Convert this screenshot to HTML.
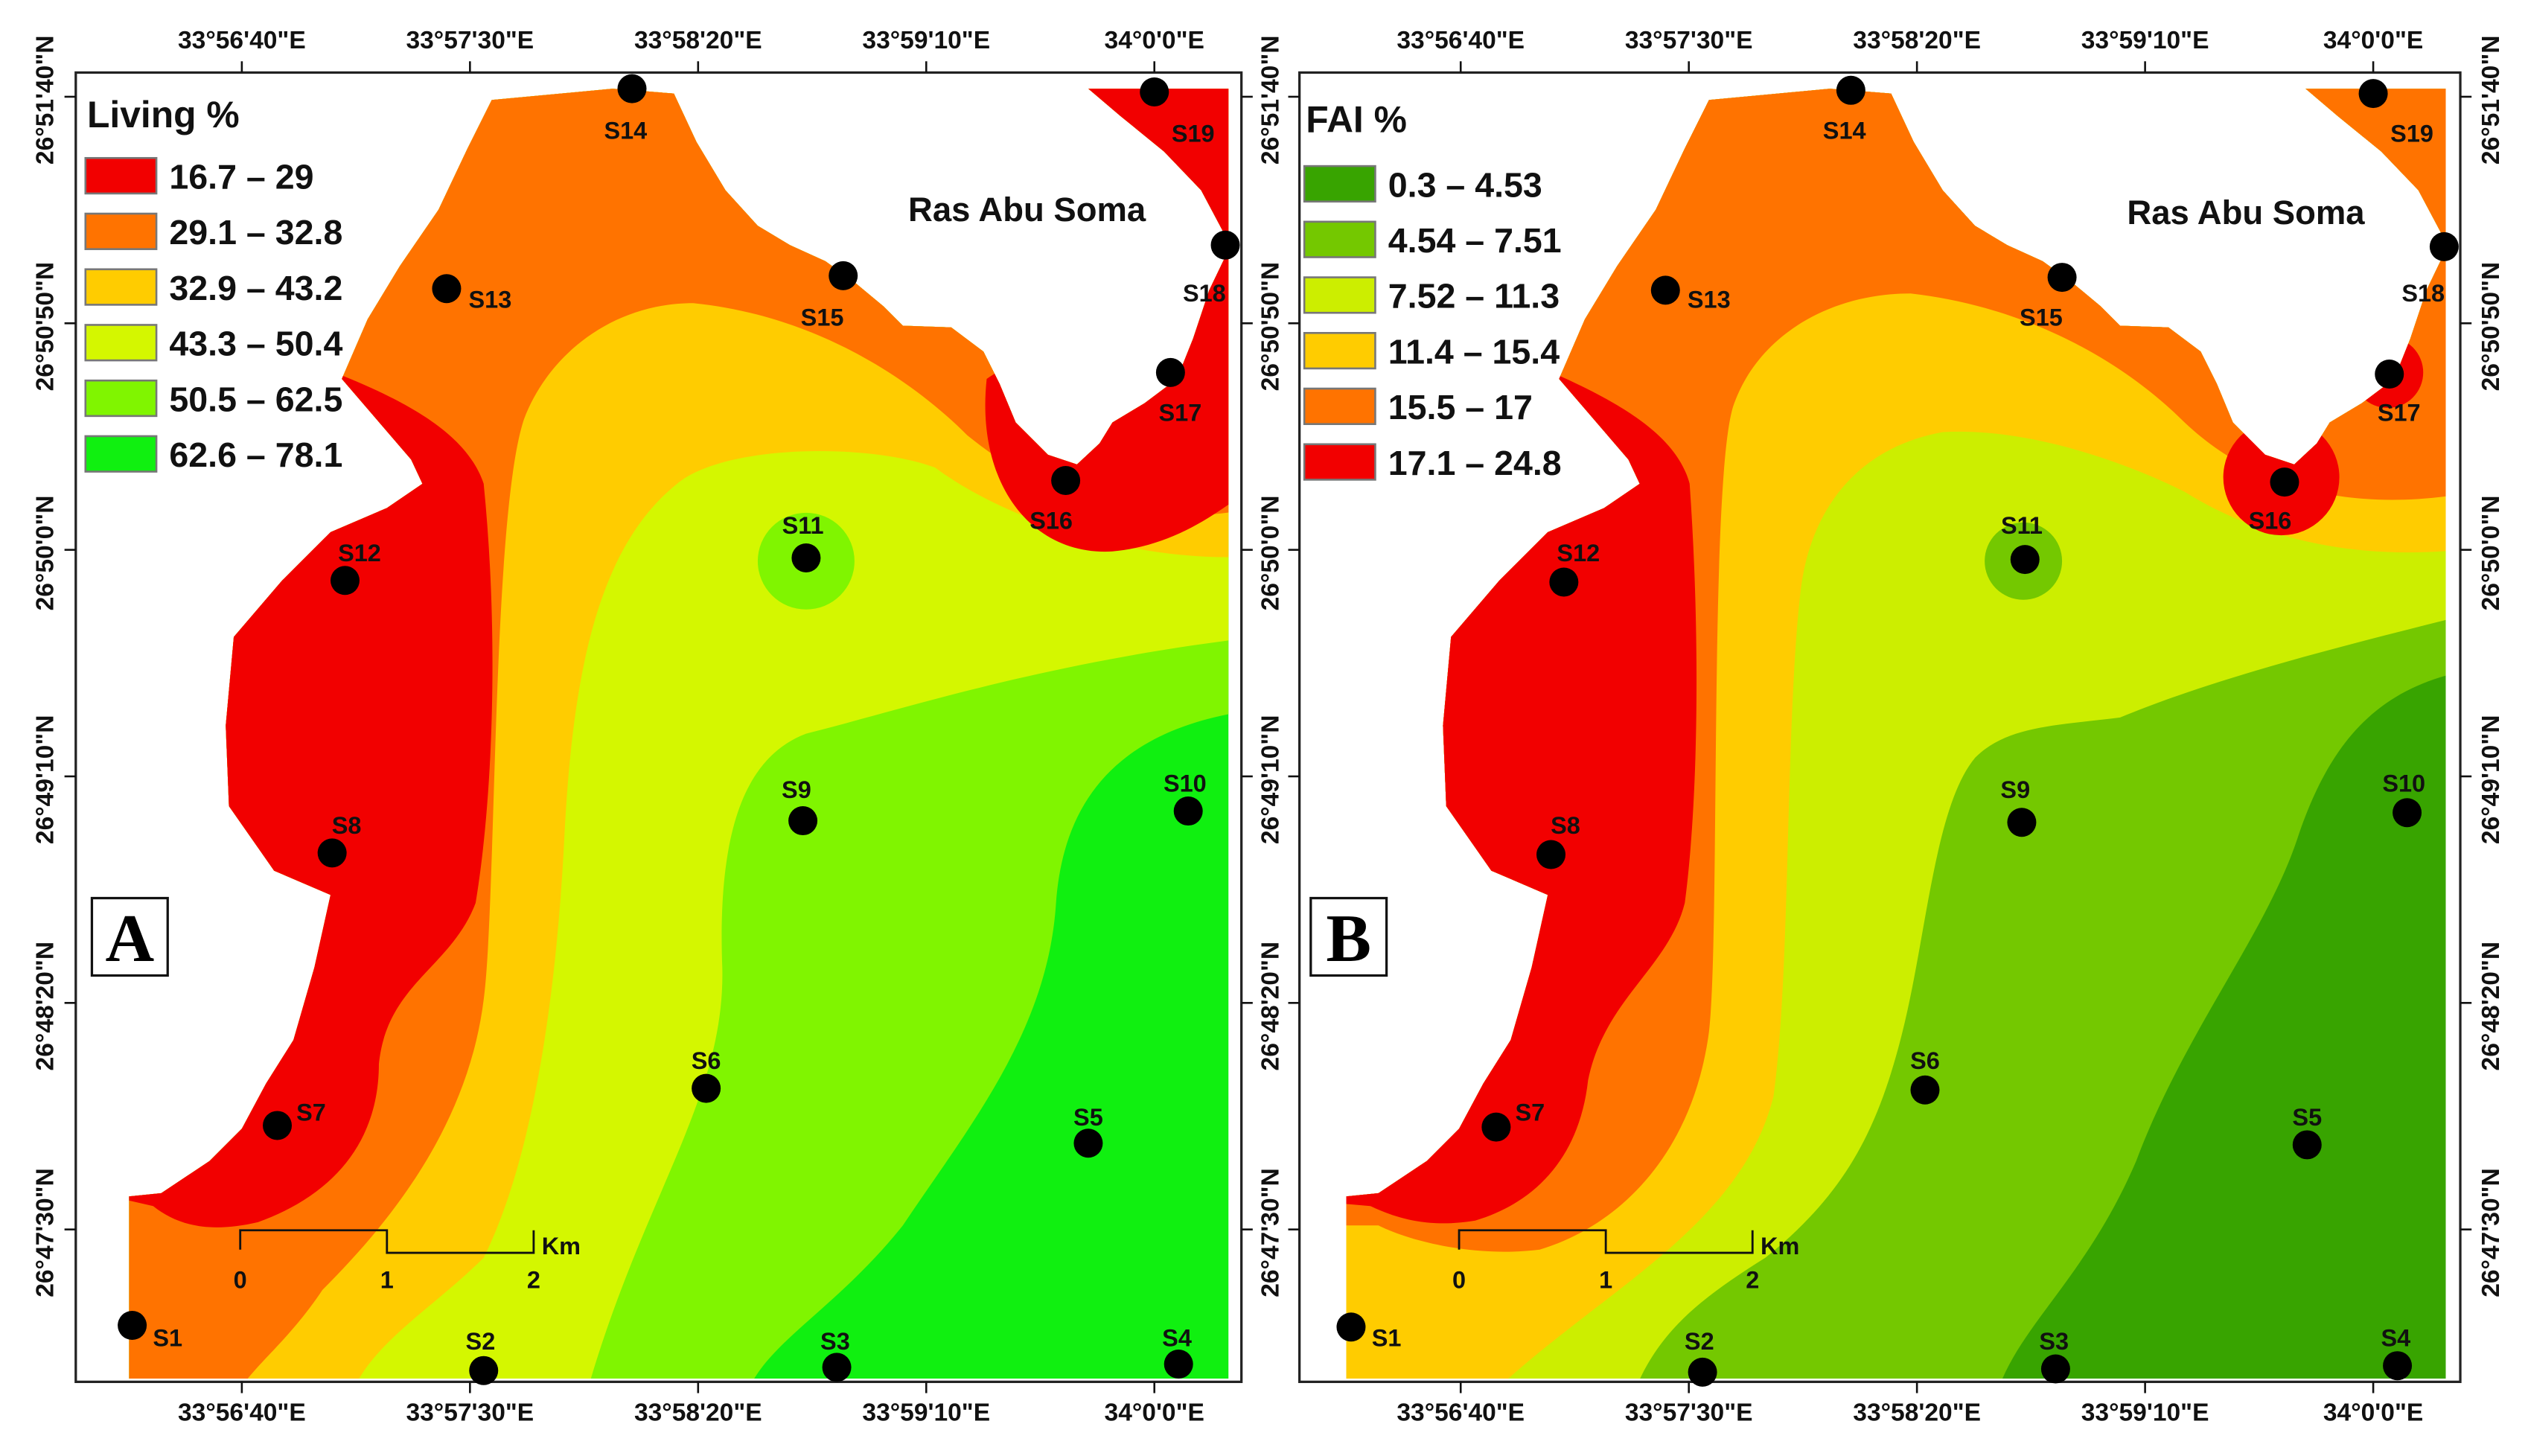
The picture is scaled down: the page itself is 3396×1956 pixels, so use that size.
<!DOCTYPE html>
<html><head><meta charset="utf-8"><style>
html,body{margin:0;padding:0;background:#fff;}
svg{display:block;font-family:"Liberation Sans",Arial,sans-serif;}
</style></head><body>
<svg id="fig" width="3396" height="1956" viewBox="0 0 1568 903" preserveAspectRatio="none" xmlns="http://www.w3.org/2000/svg">
<defs>
<clipPath id="seaA" clipPathUnits="userSpaceOnUse">
<path d="M80,855 L762,855 L762,155 L750,180 L740,210 L730,235 L710,250 L690,262 L682,275 L668,288 L650,282 L630,262 L620,238 L610,218 L590,203 L560,202 L548,190 L530,175 L512,162 L490,152 L470,140 L450,118 L432,88 L418,58 L380,55 L305,62 L290,92 L272,130 L248,165 L228,198 L212,235 L255,285 L262,300 L240,315 L205,330 L175,360 L145,395 L140,450 L142,500 L170,540 L205,555 L195,600 L182,645 L165,672 L150,700 L130,720 L100,740 L80,742 Z M675,55 L762,55 L762,150 L745,118 L722,94 L695,72 Z"/>
</clipPath>
</defs>

<!-- Panel A -->
<g>
<rect x="47" y="45" width="723" height="812" fill="#fff" stroke="#222" stroke-width="1.5"/>
<g clip-path="url(#seaA)">
<rect x="60" y="40" width="720" height="830" fill="#10f010"/>
<path fill="#80f500" d="M60,40 L780,40 L780,440 C700,450 660,490 655,560 C650,640 600,700 560,760 C520,810 480,830 465,860 L60,860 Z"/>
<path fill="#d4f700" d="M60,40 L780,40 L780,395 C650,410 560,440 500,455 C460,470 445,520 448,600 C450,680 400,740 365,860 L60,860 Z"/>
<circle cx="500" cy="348" r="30" fill="#80f500"/>
<path fill="#ffcc00" d="M60,40 L780,40 L780,345 C700,350 620,320 580,290 C540,275 450,275 420,300 C370,340 355,420 350,520 C345,620 330,720 300,780 C270,810 235,830 220,860 L60,860 Z"/>
<path fill="#ff7300" d="M60,40 L780,40 L780,315 C700,330 650,310 600,270 C560,230 500,195 430,188 C380,188 340,220 325,260 C305,320 308,560 300,620 C290,700 240,760 200,800 C180,830 160,845 150,860 L60,860 Z"/>
<path fill="#f20000" d="M60,740 L60,200 L210,232 C255,250 290,270 300,300 C310,400 305,500 295,560 C280,600 240,610 235,660 C235,705 210,740 160,758 C130,765 110,760 95,748 Z"/>
<path fill="#f20000" d="M612,235 C605,300 640,345 690,342 C730,338 755,318 780,300 L780,40 L660,40 L700,200 C680,220 640,215 612,235 Z"/>
</g>
</g>

<!-- Panel B -->
<g>
<rect x="806" y="45" width="720" height="812" fill="#fff" stroke="#222" stroke-width="1.5"/>
<g transform="translate(755,0)">
<g clip-path="url(#seaA)">
<rect x="60" y="40" width="720" height="830" fill="#38a400"/>
<path fill="#74c800" d="M60,40 L780,40 L780,415 C720,425 690,460 670,520 C650,580 600,640 570,720 C540,790 500,820 485,860 L60,860 Z"/>
<path fill="#ccee00" d="M60,40 L780,40 L780,380 C700,400 620,420 560,445 C520,450 490,450 470,470 C445,500 440,580 425,640 C410,700 390,740 340,780 C300,805 275,825 260,860 L60,860 Z"/>
<circle cx="500" cy="348" r="24" fill="#74c800"/>
<path fill="#ffcc00" d="M60,40 L780,40 L780,340 C700,350 640,330 600,305 C560,285 500,265 450,268 C395,278 368,318 362,365 C352,450 356,600 345,680 C325,760 240,800 175,860 L60,860 Z"/>
<path fill="#ff7300" d="M60,40 L780,40 L780,305 C700,320 640,300 600,262 C560,222 500,190 430,182 C380,182 335,208 320,252 C305,300 312,580 305,640 C295,715 250,760 200,775 C160,780 120,770 100,760 L60,760 Z"/>
<path fill="#f20000" d="M60,745 L60,200 L210,232 C250,250 285,270 293,300 C300,400 298,500 290,560 C280,600 240,620 230,670 C225,715 200,745 160,757 C130,762 110,755 95,748 Z"/>
<circle cx="660" cy="296" r="36" fill="#f20000"/>
<circle cx="726" cy="231" r="22" fill="#f20000"/>
</g>
</g>
</g>

<g id="overlay"></g>

<script>
const SVGNS = "http://www.w3.org/2000/svg";
const stationNames = ["S1","S2","S3","S4","S5","S6","S7","S8","S9","S10","S11","S12","S13","S14","S15","S16","S17","S18","S19"];
const stationLon = [82,300,519,731,675,438,172,206,498,737,500,214,277,392,523,661,726,760,716];
const stationLat = [822,850,848,846,709,675,698,529,509,503,346,360,179,55,171,298,231,152,57];
const labelDx = [22,-2,-1,-1,0,0,21,9,-4,-2,-2,9,27,-4,-13,-9,6,-13,24];
const labelDy = [8,-18,-16,-16,-16,-17,-8,-17,-19,-17,-20,-17,7,26,26,25,25,30,26];
const legendA = ["16.7 – 29","29.1 – 32.8","32.9 – 43.2","43.3 – 50.4","50.5 – 62.5","62.6 – 78.1"];
const legendB = ["0.3 – 4.53","4.54 – 7.51","7.52 – 11.3","11.4 – 15.4","15.5 – 17","17.1 – 24.8"];
const coloursA = ["#f20000","#ff7300","#ffcc00","#d4f700","#80f500","#10f010"];
const coloursB = ["#38a400","#74c800","#ccee00","#ffcc00","#ff7300","#f20000"];
const lonTicks = ["33°56'40\"E","33°57'30\"E","33°58'20\"E","33°59'10\"E","34°0'0\"E"];
const latTicks = ["26°51'40\"N","26°50'50\"N","26°50'0\"N","26°49'10\"N","26°48'20\"N","26°47'30\"N"];

const ov = document.getElementById('overlay');
function mk(tag, attrs, parent){const e=document.createElementNS(SVGNS,tag);for(const k in attrs)e.setAttribute(k,attrs[k]);(parent||ov).appendChild(e);return e;}
const lonX = i => 150 + i*141.5;
const latY = i => 60 + i*140.5;

[[0,"a",legendA,coloursA,"Living %"],[756,"b",legendB,coloursB,"FAI %"]].forEach(([dx,p,leg,col,title])=>{
  const g = mk('g',{transform:`translate(${dx},0)`});
  
  
  stationNames.forEach((n,i)=>{
    const c = mk('circle',{cx:stationLon[i],cy:stationLat[i]+(p==="b"?1:0),r:9,fill:"#000"},g);
    
    
    const t = mk('text',{x:stationLon[i]+labelDx[i],y:stationLat[i]+labelDy[i]+5,"font-size":15,"font-weight":"bold","text-anchor":"middle",fill:"#111"},g);
    
    
    t.textContent = n;
  });
  const lt = mk('text',{x:54,y:p==="a"?79:82,"font-size":23,"font-weight":"bold",fill:"#111"},g);
  
  
  lt.textContent = title;
  leg.forEach((s,i)=>{
    const y0 = (p==="a"?98:103) + i*34.5;
    const r = mk('rect',{x:53,y:y0,width:44,height:22,fill:col[i],stroke:"#777","stroke-width":1.2},g);
    
    
    const t = mk('text',{x:105,y:y0+19,"font-size":21.5,"font-weight":"bold",fill:"#111"},g);
    
    
    t.textContent = s;
  });
  const lb = mk('rect',{x:57,y:557,width:47,height:48,fill:"#fff",stroke:"#111","stroke-width":1.5},g);
  
  
  const ltx = mk('text',{x:80.5,y:596,"font-size":42,"font-weight":"bold","text-anchor":"middle","font-family":"Liberation Serif, serif",fill:"#000"},g);
  
  
  ltx.textContent = p.toUpperCase();
  const rn = mk('text',{x:637,y:p==="a"?137:139,"font-size":21,"font-weight":"bold","text-anchor":"middle",fill:"#111"},g);
  
  
  rn.textContent = "Ras Abu Soma";
  const sb = mk('path',{d:"M149,775 L149,763 L240,763 L240,777 L331,777 L331,763",fill:"none",stroke:"#111","stroke-width":1.3},g);
  
  
  ["0","1","2"].forEach((s,i)=>{
    const t = mk('text',{x:149+i*91,y:799,"font-size":15,"font-weight":"bold","text-anchor":"middle",fill:"#111"},g);
    
    
    t.textContent = s;
  });
  const km = mk('text',{x:336,y:778,"font-size":15,"font-weight":"bold",fill:"#111"},g);
  
  
  km.textContent = "Km";
  lonTicks.forEach((s,i)=>{
    const x = lonX(i);
    [[30,45,38],[877,857,864]].forEach(([ty,fy,ey],k)=>{
      const tk = mk('line',{x1:x,x2:x,y1:fy,y2:ey,stroke:"#111","stroke-width":1.2},g);
      
      
      const t = mk('text',{x:x,y:ty+(k?4:0),"font-size":15.5,"font-weight":"bold","text-anchor":"middle",fill:"#111"},g);
      
      
      t.textContent = s;
    });
  });
  latTicks.forEach((s,i)=>{
    const y = latY(i);
    [[47,40],[770,777]].forEach(([fx,ex],k)=>{
      const tk = mk('line',{x1:fx+(p==="b"&&k===0?3:0),x2:ex+(p==="b"&&k===0?3:0),y1:y,y2:y,stroke:"#111","stroke-width":1.2},g);
      
      
    });
    const cols = p==="a" ? [28,788] : [1545-756];
    cols.forEach((cx,k)=>{
      const t = mk('text',{x:0,y:0,transform:`translate(${cx+5},${y+2}) rotate(-90)`,"font-size":15.5,"font-weight":"bold","text-anchor":"middle",fill:"#111"},g);
      
      
      t.textContent = s;
    });
  });
});
</script>
</svg>
</body></html>
